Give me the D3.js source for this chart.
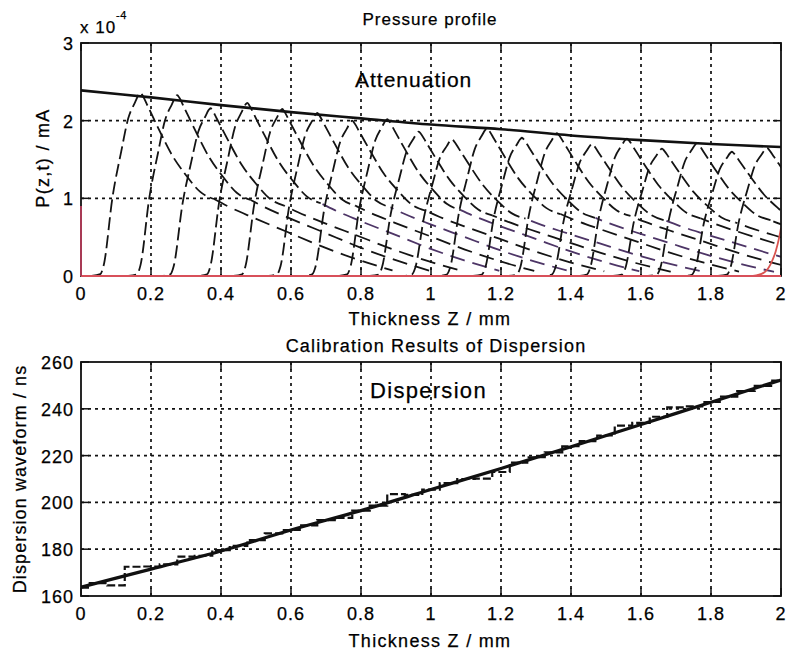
<!DOCTYPE html>
<html>
<head>
<meta charset="utf-8">
<script src="https://cdn.jsdelivr.net/npm/d3@7"></script>
<style>
  body { margin: 0; background: #fff; }
  svg { display: block; }
  text { font-family: "Liberation Sans", Arial, Helvetica, sans-serif; fill: #000; stroke: #000; stroke-width: 0.25px; }
</style>
</head>
<body>
<svg id="chart" width="787" height="655"></svg>
<script>
// ---- data ----
const xTicks = [0, 0.2, 0.4, 0.6, 0.8, 1, 1.2, 1.4, 1.6, 1.8, 2];
const xTickLabels = ["0", "0.2", "0.4", "0.6", "0.8", "1", "1.2", "1.4", "1.6", "1.8", "2"];
const pTicks = [0, 1, 2, 3];
const dTicks = [160, 180, 200, 220, 240, 260];

// attenuation envelope (units of 1e-4 mA)
const attenX = [0, 0.2, 0.4, 0.6, 0.8, 1.0, 1.2, 1.4, 1.6, 1.8, 2.0];
const attenY = [2.39, 2.30, 2.20, 2.11, 2.03, 1.95, 1.89, 1.81, 1.75, 1.70, 1.66];

// pulse peaks travelling through the sample
const pulseCenters = [0.17, 0.275, 0.37, 0.475, 0.575, 0.675, 0.775, 0.875, 0.965, 1.06,
                      1.16, 1.26, 1.36, 1.46, 1.56, 1.66, 1.76, 1.86, 1.96];
const pulsePeaks   = [2.36, 2.33, 2.16, 2.23, 2.15, 2.10, 2.00, 2.02, 1.86, 1.76,
                      1.90, 1.78, 1.84, 1.70, 1.77, 1.64, 1.71, 1.60, 1.65];
// one pulse outline: offset from its peak / fraction of its peak height
const shapeDx  = [-0.14, -0.115, -0.105, -0.08, -0.055, -0.035, -0.015, -0.005, 0, 0.006,
                  0.02, 0.05, 0.09, 0.13, 0.17, 0.21, 0.25, 0.32, 0.42, 0.52, 0.62, 0.72];
const shapeRel = [0, 0.01, 0.06, 0.43, 0.68, 0.86, 0.95, 0.99, 1, 0.985,
                  0.93, 0.81, 0.66, 0.55, 0.46, 0.42, 0.38, 0.32, 0.24, 0.16, 0.09, 0.03];
const tailStart = 15; // index in the shape where the long tail begins

// red traces
const baseX = [0, 2], baseY = [0, 0];
const leftRedX = [0, 0], leftRedY = [0, 0.9];
const rightRedX = [1.92, 1.95, 1.97, 1.985, 1.995, 2.0];
const rightRedY = [0, 0.04, 0.15, 0.32, 0.5, 0.62];

// dispersion calibration
const fitX = [0, 0.2, 0.4, 0.6, 0.8, 1.0, 1.2, 1.4, 1.6, 1.8, 2.0];
const fitY = [163.8, 171.5, 179.2, 188.2, 196.5, 205.5, 214.5, 223.8, 233.3, 242.8, 252.3];
const measX = [0, 0.05, 0.1, 0.15, 0.2, 0.25, 0.3, 0.35, 0.4, 0.45, 0.5, 0.55, 0.6, 0.65,
               0.7, 0.75, 0.8, 0.85, 0.9, 0.95, 1.0, 1.05, 1.1, 1.15, 1.2, 1.25, 1.3, 1.35,
               1.4, 1.45, 1.5, 1.55, 1.6, 1.65, 1.7, 1.75, 1.8, 1.85, 1.9, 1.95, 2.0];
const measY = [163.6, 165.5, 164.5, 172.5, 172.6, 173.5, 176.8, 177.2, 179.6, 181.4, 183.9, 186.8,
               188.2, 190.2, 192.4, 193.4, 196.5, 198.6, 203.5, 203.2, 205.5, 208.2, 210, 210.2,
               213, 217, 219.3, 221.4, 224, 226.2, 228.6, 232.8, 234, 236.6, 240.6, 241, 242.9,
               245.2, 247.6, 249.8, 252];

// ---- layout ----
const svg = d3.select("#chart");
const left = 81, right = 781;
const top1 = 43, bot1 = 276;
const top2 = 362, bot2 = 596;

const x = d3.scaleLinear().domain([0, 2]).range([left, right]);
const yP = d3.scaleLinear().domain([0, 3]).range([bot1, top1]);
const yD = d3.scaleLinear().domain([160, 260]).range([bot2, top2]);

const txt = (sel, size, spacing) => sel.style("font-size", size + "px").style("letter-spacing", spacing + "px");
const zip = (a, b) => a.map((v, i) => [v, b[i]]);

function drawGrid(g, y, ticks, top, bot) {
  // dotted grid
  g.append("g").selectAll("line").data(xTicks.slice(1, -1)).join("line")
    .attr("x1", d => x(d)).attr("x2", d => x(d)).attr("y1", top).attr("y2", bot)
    .attr("stroke", "#111").attr("stroke-width", 1.7).attr("stroke-dasharray", "3,4");
  g.append("g").selectAll("line").data(ticks.slice(1, -1)).join("line")
    .attr("x1", left).attr("x2", right).attr("y1", d => y(d)).attr("y2", d => y(d))
    .attr("stroke", "#111").attr("stroke-width", 1.7).attr("stroke-dasharray", "3,4");
}

function drawAxes(g, y, ticks, top, bot) {
  const tl = 8;
  const tk = g.append("g").attr("stroke", "#111").attr("stroke-width", 1.5);
  xTicks.forEach(d => {
    tk.append("line").attr("x1", x(d)).attr("x2", x(d)).attr("y1", bot).attr("y2", bot - tl);
    tk.append("line").attr("x1", x(d)).attr("x2", x(d)).attr("y1", top).attr("y2", top + tl);
  });
  ticks.forEach(d => {
    tk.append("line").attr("x1", left).attr("x2", left + tl).attr("y1", y(d)).attr("y2", y(d));
    tk.append("line").attr("x1", right).attr("x2", right - tl).attr("y1", y(d)).attr("y2", y(d));
  });
  g.append("rect").attr("x", left).attr("y", top).attr("width", right - left).attr("height", bot - top)
    .attr("fill", "none").attr("stroke", "#111").attr("stroke-width", 1.8);

  g.append("g").selectAll("text").data(xTicks).join("text")
    .attr("x", d => x(d)).attr("y", bot + 24).attr("text-anchor", "middle")
    .text((d, i) => xTickLabels[i]).call(txt, 18, 1);
  g.append("g").selectAll("text").data(ticks).join("text")
    .attr("x", left - 7).attr("y", d => y(d) + 7).attr("text-anchor", "end")
    .text(d => d).call(txt, 18, 1);
}

// clip paths
const defs = svg.append("defs");
defs.append("clipPath").attr("id", "clip1").append("rect")
  .attr("x", left).attr("y", top1).attr("width", right - left).attr("height", bot1 - top1 + 1);
defs.append("clipPath").attr("id", "clip2").append("rect")
  .attr("x", left).attr("y", top2).attr("width", right - left).attr("height", bot2 - top2);

// ===== top panel: pressure profile =====
const g1 = svg.append("g");
drawGrid(g1, yP, pTicks, top1, bot1);

const plot1 = g1.append("g").attr("clip-path", "url(#clip1)");
const lineP = d3.line().x(d => x(d[0])).y(d => yP(d[1])).curve(d3.curveMonotoneX);
const lineRaw = d3.line().x(d => x(d[0])).y(d => yP(d[1]));

pulseCenters.forEach((c, i) => {
  const pts = shapeDx.map((dx, k) => [c + dx, pulsePeaks[i] * shapeRel[k]]);
  const head = pts.slice(0, tailStart + 1);
  const tail = pts.slice(tailStart);
  const purple = c > 0.3 && c < 1.5 && i % 2 === 1;
  plot1.append("path").attr("d", lineP(tail))
    .attr("fill", "none").attr("stroke", purple ? "#4d3566" : "#141414")
    .attr("stroke-width", 1.8).attr("stroke-dasharray", "15,8")
    .attr("stroke-dashoffset", (i * 7) % 23);
  plot1.append("path").attr("d", lineP(head))
    .attr("fill", "none").attr("stroke", "#141414")
    .attr("stroke-width", 1.8).attr("stroke-dasharray", "13,5")
    .attr("stroke-dashoffset", (i * 5) % 18);
});

plot1.append("path").attr("d", d3.line().x(d => x(d[0])).y(d => yP(d[1])).curve(d3.curveCatmullRom)(zip(attenX, attenY)))
  .attr("fill", "none").attr("stroke", "#111").attr("stroke-width", 2.6);
plot1.append("path").attr("d", lineP(zip(rightRedX, rightRedY)))
  .attr("fill", "none").attr("stroke", "#d9534f").attr("stroke-width", 1.8);

drawAxes(g1, yP, pTicks, top1, bot1);

// red traces drawn on top of the frame, as in the original
g1.append("path").attr("d", lineRaw(zip(baseX, baseY)))
  .attr("fill", "none").attr("stroke", "#d8505a").attr("stroke-width", 2.2);
g1.append("path").attr("d", lineRaw(zip(leftRedX, leftRedY)))
  .attr("fill", "none").attr("stroke", "#a83a55").attr("stroke-width", 2);

g1.append("text").attr("x", 355).attr("y", 87).text("Attenuation").call(txt, 21, 1);
g1.append("text").attr("x", 430).attr("y", 25).attr("text-anchor", "middle").text("Pressure profile").call(txt, 17, 1);
g1.append("text").attr("x", 430).attr("y", 325).attr("text-anchor", "middle").text("Thickness Z / mm").call(txt, 18, 1.3);
g1.append("text").attr("x", 80).attr("y", 33).text("x 10").call(txt, 17, 1);
g1.append("text").attr("x", 116).attr("y", 19).text("-4").call(txt, 11, 0.5);
g1.append("text").attr("transform", "translate(49,158) rotate(-90)").attr("text-anchor", "middle")
  .text("P(z,t)  / mA").call(txt, 18, 1.3);

// ===== bottom panel: dispersion =====
const g2 = svg.append("g");
drawGrid(g2, yD, dTicks, top2, bot2);
const plot2 = g2.append("g").attr("clip-path", "url(#clip2)");

plot2.append("path")
  .attr("d", d3.line().x(d => x(d[0])).y(d => yD(d[1])).curve(d3.curveStep)(zip(measX, measY)))
  .attr("fill", "none").attr("stroke", "#111").attr("stroke-width", 2.2).attr("stroke-dasharray", "8,3");
plot2.append("path")
  .attr("d", d3.line().x(d => x(d[0])).y(d => yD(d[1])).curve(d3.curveMonotoneX)(zip(fitX, fitY)))
  .attr("fill", "none").attr("stroke", "#111").attr("stroke-width", 3.2);

drawAxes(g2, yD, dTicks, top2, bot2);

g2.append("text").attr("x", 370).attr("y", 398).text("Dispersion").call(txt, 22, 1.3);
g2.append("text").attr("x", 436).attr("y", 352).attr("text-anchor", "middle")
  .text("Calibration Results of Dispersion").call(txt, 18, 1.2);
g2.append("text").attr("x", 430).attr("y", 647).attr("text-anchor", "middle").text("Thickness Z / mm").call(txt, 18, 1.3);
g2.append("text").attr("transform", "translate(26,479) rotate(-90)").attr("text-anchor", "middle")
  .text("Dispersion waveform / ns").call(txt, 18, 1.1);
</script>
</body>
</html>
